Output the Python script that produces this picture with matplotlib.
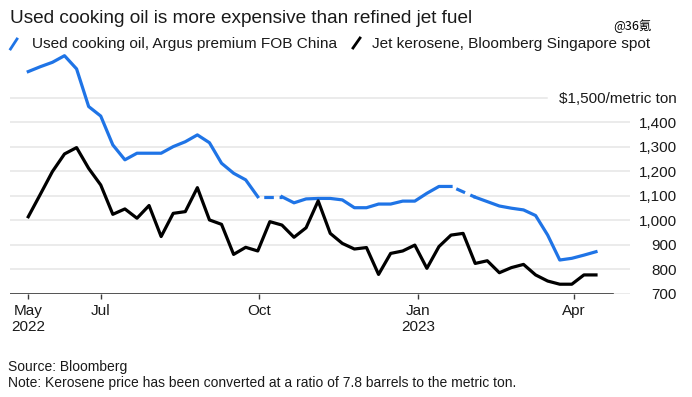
import matplotlib.pyplot as plt
from matplotlib.lines import Line2D
import numpy as np
import pandas as pd

plt.rcParams['font.family'] = ['Liberation Sans', 'DejaVu Sans']

# weekly prices, $/metric ton, starting 20 May 2022
weeks = pd.date_range('2022-05-20', periods=48, freq='7D').to_numpy()

uco = [1608, 1628, 1646, 1673, 1619, 1465, 1426, 1308, 1247, 1274, 1274, 1274,
       1301, 1321, 1349, 1317, 1233, 1192, 1165, 1096, np.nan, 1096, 1071, 1087,
       1089, 1089, 1083, 1051, 1051, 1066, 1066, 1078, 1078, 1110, 1138, 1138,
       np.nan, 1094, 1076, 1058, 1049, 1042, 1019, 939, 837, 844, 857, 871]

kerosene = [1014, 1106, 1199, 1271, 1297, 1212, 1144, 1024, 1046, 1008, 1060, 933,
            1028, 1035, 1133, 1001, 983, 860, 889, 874, 994, 980, 930, 969,
            1079, 946, 905, 882, 888, 778, 864, 874, 898, 803, 892, 939,
            946, 823, 834, 785, 806, 819, 776, 751, 738, 738, 776, 776]

x_ticks = np.array(['2022-05-20', '2022-07-01', '2022-10-01', '2023-01-01', '2023-04-01'],
                   dtype='datetime64[D]')
x_labels = ['May\n2022', 'Jul', 'Oct', 'Jan\n2023', 'Apr']
y_ticks = [700, 800, 900, 1000, 1100, 1200, 1300, 1400, 1500]
y_labels = ['700', '800', '900', '1,000', '1,100', '1,200', '1,300', '1,400', '$1,500/metric ton']

blue = '#1f74e6'
ink = '#1a1a1a'

W, H = 692, 397
fig = plt.figure(figsize=(W / 100, H / 100), dpi=100)
ax = fig.add_axes([10 / W, 1 - 293.5 / H, 620 / W, 244.4 / H])

# gridlines (the top one stops short of its label)
for v in y_ticks:
    xmax = (547 - 10) / 620 if v == 1500 else 1
    ax.axhline(v, xmin=0, xmax=xmax, color='#e6e6e6', lw=1.1, zorder=0)
ax.axhline(700, xmin=0, xmax=(613 - 10) / 620, color='#3a3a3a', lw=1.2, zorder=1)

# dashed bridge over the missing weeks
uco_s = pd.Series(uco)
filled = uco_s.interpolate()
for i in np.flatnonzero(uco_s.isna()):
    ax.plot(weeks[i - 1:i + 2], filled.iloc[i - 1:i + 2], color=blue, lw=2.3,
            linestyle=(3, (3, 1.8)), zorder=3)

ax.plot(weeks, uco, color=blue, lw=2.3, solid_joinstyle='round', zorder=3)
ax.plot(weeks, kerosene, color='black', lw=2.3, solid_joinstyle='round', zorder=3)

start = weeks[0]
ax.set_xlim(start - np.timedelta64(254, 'h'), start + np.timedelta64(8369, 'h'))
ax.set_ylim(700, 1700)

ax.set_xticks(x_ticks)
ax.set_xticklabels(x_labels, fontsize=11, color=ink, linespacing=1.2)
ax.tick_params(axis='x', length=3.6, width=1, color='#3a3a3a', pad=4)

ax.yaxis.tick_right()
ax.set_yticks(y_ticks)
ax.set_yticklabels(y_labels, fontsize=11, color=ink)
ax.tick_params(axis='y', length=0, pad=33.8)
for lab in ax.get_yticklabels():
    lab.set_horizontalalignment('right')

for s in ax.spines.values():
    s.set_visible(False)
ax.patch.set_alpha(0)

# title and legend
fig.text(10 / W, 1 - 22.7 / H, 'Used cooking oil is more expensive than refined jet fuel',
         fontsize=13.7, color=ink, va='baseline')
fig.add_artist(Line2D([10.5 / W, 17 / W], [1 - 49 / H, 1 - 39 / H], color=blue, lw=2))
fig.text(32 / W, 1 - 48.3 / H, 'Used cooking oil, Argus premium FOB China',
         fontsize=11.1, color=ink, va='baseline')
fig.add_artist(Line2D([353 / W, 360 / W], [1 - 48 / H, 1 - 38 / H], color='black', lw=2))
fig.text(372 / W, 1 - 48.3 / H, 'Jet kerosene, Bloomberg Singapore spot',
         fontsize=11.1, color=ink, va='baseline')
fig.text(613 / W, 1 - 26 / H, '@36氪', fontsize=9, color='black', va='center',
         family=['Noto Sans CJK SC', 'DejaVu Sans'])

# footer
fig.text(8 / W, 1 - 371 / H, 'Source: Bloomberg', fontsize=10, color=ink, va='baseline')
fig.text(8 / W, 1 - 387 / H,
         'Note: Kerosene price has been converted at a ratio of 7.8 barrels to the metric ton.',
         fontsize=10, color=ink, va='baseline')

fig.savefig('out.png', dpi=100)
